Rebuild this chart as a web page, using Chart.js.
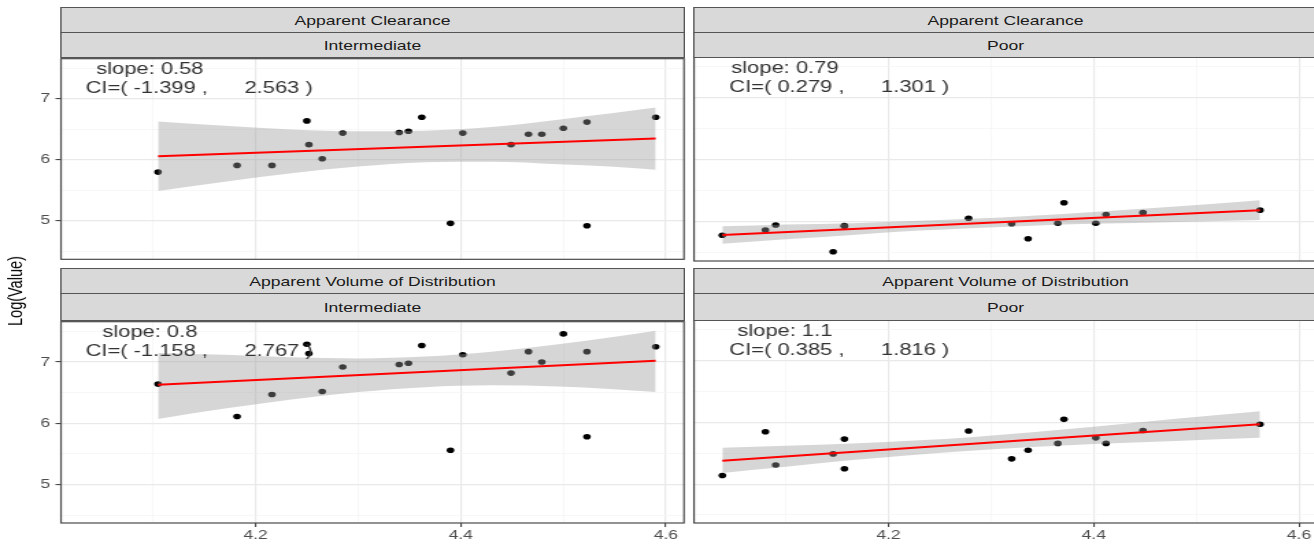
<!DOCTYPE html>
<html><head><meta charset="utf-8">
<script src="https://cdn.jsdelivr.net/npm/chart.js"></script>
<style>
html,body{margin:0;padding:0;background:#fff;overflow:hidden;width:1314px;height:544px;}
#wrap{position:absolute;left:0;top:0;width:970px;height:544px;transform:scaleX(1.37);transform-origin:0 0;overflow:visible;}
#wrap canvas{position:absolute;}
.strip{position:absolute;box-sizing:border-box;background:#d9d9d9;border:1.2px solid #555;font-family:"Liberation Sans",Arial,sans-serif;font-size:12.8px;color:#1a1a1a;text-align:center;white-space:nowrap;padding-top:1.5px;}
#ytitle{position:absolute;transform:translate(-50%,-50%) rotate(-90deg);font-family:"Liberation Sans",Arial,sans-serif;font-size:14.5px;color:#000;white-space:nowrap;}
</style></head>
<body><div id="wrap"></div>
<script>
// ---------------- data ----------------
const xIntermediate = [4.105, 4.182, 4.216, 4.250, 4.252, 4.265, 4.285, 4.340, 4.349, 4.362, 4.390, 4.402, 4.449, 4.466, 4.479, 4.500, 4.523, 4.523, 4.590];
const clearanceIntermediate = [5.80, 5.91, 5.91, 6.64, 6.25, 6.02, 6.44, 6.45, 6.47, 6.70, 4.96, 6.44, 6.25, 6.42, 6.42, 6.52, 6.62, 4.92, 6.70];
const volumeIntermediate = [6.64, 6.11, 6.47, 7.29, 7.14, 6.52, 6.92, 6.96, 6.98, 7.27, 5.56, 7.12, 6.82, 7.17, 7.00, 7.46, 7.17, 5.78, 7.25];

const xPoor = [4.038, 4.080, 4.090, 4.146, 4.157, 4.157, 4.278, 4.320, 4.336, 4.365, 4.371, 4.402, 4.412, 4.448, 4.562];
const clearancePoor = [4.785, 4.87, 4.95, 4.52, 4.94, 4.93, 5.06, 4.97, 4.73, 4.98, 5.31, 4.98, 5.12, 5.15, 5.19];
const volumePoor = [5.14, 5.85, 5.31, 5.49, 5.73, 5.25, 5.86, 5.41, 5.55, 5.66, 6.05, 5.75, 5.66, 5.87, 5.97];

const fitXIntermediate = [4.105, 4.590];
const fitClearanceIntermediate = [6.06, 6.35];
const fitVolumeIntermediate = [6.63, 7.02];
const fitXPoor = [4.038, 4.562];
const fitClearancePoor = [4.79, 5.19];
const fitVolumePoor = [5.38, 5.97];

const bandXIntermediate = [4.105, 4.17, 4.235, 4.30, 4.365, 4.43, 4.495, 4.545, 4.59];
const bandUpperClearanceInt = [6.63, 6.56, 6.50, 6.47, 6.48, 6.54, 6.66, 6.76, 6.86];
const bandLowerClearanceInt = [5.49, 5.64, 5.78, 5.89, 5.96, 5.97, 5.93, 5.89, 5.84];
const bandUpperVolumeInt = [7.15, 7.12, 7.08, 7.06, 7.09, 7.17, 7.29, 7.40, 7.51];
const bandLowerVolumeInt = [6.07, 6.24, 6.39, 6.51, 6.59, 6.62, 6.60, 6.56, 6.51];

const bandXPoor = [4.038, 4.10, 4.165, 4.23, 4.28, 4.34, 4.40, 4.48, 4.562];
const bandUpperClearancePoor = [4.93, 4.96, 4.98, 5.02, 5.05, 5.10, 5.16, 5.25, 5.35];
const bandLowerClearancePoor = [4.65, 4.72, 4.79, 4.86, 4.90, 4.94, 4.97, 5.00, 5.03];
const bandUpperVolumePoor = [5.59, 5.62, 5.66, 5.71, 5.76, 5.84, 5.93, 6.06, 6.18];
const bandLowerVolumePoor = [5.18, 5.28, 5.39, 5.48, 5.54, 5.60, 5.65, 5.70, 5.75];

const xTickValues = [4.1, 4.2, 4.3, 4.4, 4.5, 4.6];
const xTickLabels = [4.2, 4.4, 4.6];
const yTickValues = [4.5, 5, 5.5, 6, 6.5, 7, 7.5];
const yTickLabels = [5, 6, 7];

const parameterNames = ['Apparent Clearance', 'Apparent Volume of Distribution'];
const groupNames = ['Intermediate', 'Poor'];
const slopeLabels = ['slope: 0.58', 'slope: 0.79', 'slope: 0.8', 'slope: 1.1'];
const ciLabels = ['CI=( -1.399 ,      2.563 )', 'CI=( 0.279 ,      1.301 )', 'CI=( -1.158 ,      2.767 )', 'CI=( 0.385 ,      1.816 )'];
const yAxisTitle = 'Log(Value)';

// ---------------- layout (not data) ----------------
const S = 1.37;                       // horizontal stretch of the reference
const X_MIN = 4.0104, X_MAX = 4.6176;
const Y_MIN = 4.37, Y_MAX = 7.66;
const colLeft = [61 / S, 694 / S];
const panelW = 623 / S;
const rowTop = [57, 320];
const rowBottom = [261, 523];
const stripRows = [[8, 33, 57], [269, 294, 320]];
const textPos = [{slopeX: 4.097, ciX: 4.145}, {slopeX: 4.099, ciX: 4.152}];
const slopeY = 7.48, ciY = 7.17;
const FONT = '"Liberation Sans", Arial, sans-serif';

const wrap = document.getElementById('wrap');

function pts(xs, ys) { return xs.map((x, i) => ({x: x, y: ys[i]})); }

const panels = [
  {r:0, c:0, x:xIntermediate, y:clearanceIntermediate, fx:fitXIntermediate, fy:fitClearanceIntermediate, bx:bandXIntermediate, bu:bandUpperClearanceInt, bl:bandLowerClearanceInt, k:0},
  {r:0, c:1, x:xPoor, y:clearancePoor, fx:fitXPoor, fy:fitClearancePoor, bx:bandXPoor, bu:bandUpperClearancePoor, bl:bandLowerClearancePoor, k:1},
  {r:1, c:0, x:xIntermediate, y:volumeIntermediate, fx:fitXIntermediate, fy:fitVolumeIntermediate, bx:bandXIntermediate, bu:bandUpperVolumeInt, bl:bandLowerVolumeInt, k:2},
  {r:1, c:1, x:xPoor, y:volumePoor, fx:fitXPoor, fy:fitVolumePoor, bx:bandXPoor, bu:bandUpperVolumePoor, bl:bandLowerVolumePoor, k:3}
];

const deco = {
  id: 'deco',
  afterDraw(chart, args, opts) {
    const {ctx, chartArea: a, scales} = chart;
    ctx.save();
    ctx.fillStyle = '#333';
    ctx.font = '16px ' + FONT;
    ctx.textAlign = 'center';
    ctx.textBaseline = 'middle';
    (opts.texts || []).forEach(t => {
      ctx.fillText(t.text, scales.x.getPixelForValue(t.x), scales.y.getPixelForValue(t.y));
    });
    ctx.strokeStyle = '#4a4a4a';
    ctx.lineWidth = 1.2;
    ctx.strokeRect(a.left, a.top, a.right - a.left, a.bottom - a.top);
    ctx.restore();
  }
};

function addStrip(left, top, bottom, text) {
  const d = document.createElement('div');
  d.className = 'strip';
  d.style.left = (left - 0.6) + 'px';
  d.style.width = (panelW + 1.2) + 'px';
  d.style.top = (top - 0.6) + 'px';
  const h = bottom - top + 1.2;
  d.style.height = h + 'px';
  d.style.lineHeight = (h - 2.4 - 1.5) + 'px';
  d.textContent = text;
  wrap.appendChild(d);
}

const majorGrid = '#e9e9e9', minorGrid = '#f3f3f3';

panels.forEach(p => {
  const isLeft = p.c === 0, isBottom = p.r === 1;
  const yAxisW = isLeft ? colLeft[0] : 0;
  const canvasLeft = isLeft ? 0 : Math.floor(colLeft[1] - 5);
  const canvasTop = rowTop[p.r] - 10;
  const xAxisH = isBottom ? 30 : 0;
  const cw = Math.ceil(colLeft[p.c] + panelW + 5 - canvasLeft);
  const ch = Math.round(rowBottom[p.r] - rowTop[p.r] + 10 + (isBottom ? xAxisH : 10));
  const padLeft = colLeft[p.c] - canvasLeft - yAxisW;
  const padRight = canvasLeft + cw - (colLeft[p.c] + panelW);

  const cv = document.createElement('canvas');
  cv.width = cw; cv.height = ch;
  cv.style.left = canvasLeft + 'px';
  cv.style.top = canvasTop + 'px';
  cv.style.width = cw + 'px'; cv.style.height = ch + 'px';
  wrap.appendChild(cv);

  addStrip(colLeft[p.c], stripRows[p.r][0], stripRows[p.r][1], parameterNames[p.r]);
  addStrip(colLeft[p.c], stripRows[p.r][1], stripRows[p.r][2], groupNames[p.c]);

  const tp = textPos[p.c];
  new Chart(cv, {
    type: 'scatter',
    data: {
      datasets: [
        {label: 'fit', data: pts(p.fx, p.fy), showLine: true, borderColor: '#ff0000', borderWidth: 2, pointRadius: 0, fill: false},
        {label: 'ciUpper', data: pts(p.bx, p.bu), showLine: true, borderWidth: 0, borderColor: 'rgba(0,0,0,0)', pointRadius: 0, cubicInterpolationMode: 'monotone', fill: '+1', backgroundColor: 'rgba(153,153,153,0.4)'},
        {label: 'ciLower', data: pts(p.bx, p.bl), showLine: true, borderWidth: 0, borderColor: 'rgba(0,0,0,0)', pointRadius: 0, cubicInterpolationMode: 'monotone', fill: false},
        {label: 'obs', data: pts(p.x, p.y), pointRadius: 2.8, pointBackgroundColor: '#000', pointBorderWidth: 0, backgroundColor: '#000'}
      ]
    },
    options: {
      responsive: false, maintainAspectRatio: false, animation: false, events: [],
      layout: {padding: {left: padLeft, right: padRight, top: 10, bottom: isBottom ? 0 : 10}},
      plugins: {
        legend: {display: false}, tooltip: {enabled: false},
        deco: {texts: [
          {text: slopeLabels[p.k], x: tp.slopeX, y: slopeY},
          {text: ciLabels[p.k], x: tp.ciX, y: ciY}
        ]}
      },
      scales: {
        x: {
          type: 'linear', min: X_MIN, max: X_MAX,
          afterBuildTicks: s => { s.ticks = xTickValues.map(v => ({value: v})); },
          afterFit: s => { s.height = xAxisH; },
          border: {display: false},
          grid: {
            color: c => xTickLabels.includes(c.tick.value) ? majorGrid : minorGrid,
            lineWidth: c => xTickLabels.includes(c.tick.value) ? 1.2 : 0.7,
            drawTicks: isBottom, tickLength: 4,
            tickColor: c => xTickLabels.includes(c.tick.value) ? '#333' : 'rgba(0,0,0,0)',
            tickWidth: 1
          },
          ticks: {
            display: isBottom, autoSkip: false, maxRotation: 0, padding: 1,
            color: '#4d4d4d', font: {family: FONT, size: 12.8},
            callback: v => xTickLabels.includes(v) ? String(v) : ''
          }
        },
        y: {
          type: 'linear', min: Y_MIN, max: Y_MAX,
          afterBuildTicks: s => { s.ticks = yTickValues.map(v => ({value: v})); },
          afterFit: s => { s.width = yAxisW; },
          border: {display: false},
          grid: {
            color: c => yTickLabels.includes(c.tick.value) ? majorGrid : minorGrid,
            lineWidth: c => yTickLabels.includes(c.tick.value) ? 1.2 : 0.7,
            drawTicks: isLeft, tickLength: 4,
            tickColor: c => yTickLabels.includes(c.tick.value) ? '#333' : 'rgba(0,0,0,0)',
            tickWidth: 1
          },
          ticks: {
            display: isLeft, padding: 4,
            color: '#4d4d4d', font: {family: FONT, size: 12.8},
            callback: v => yTickLabels.includes(v) ? String(v) : ''
          }
        }
      }
    },
    plugins: [deco]
  });
});

const yt = document.createElement('div');
yt.id = 'ytitle';
yt.style.left = (15 / S) + 'px';
yt.style.top = '291px';
yt.textContent = yAxisTitle;
wrap.appendChild(yt);
</script>
</body></html>
